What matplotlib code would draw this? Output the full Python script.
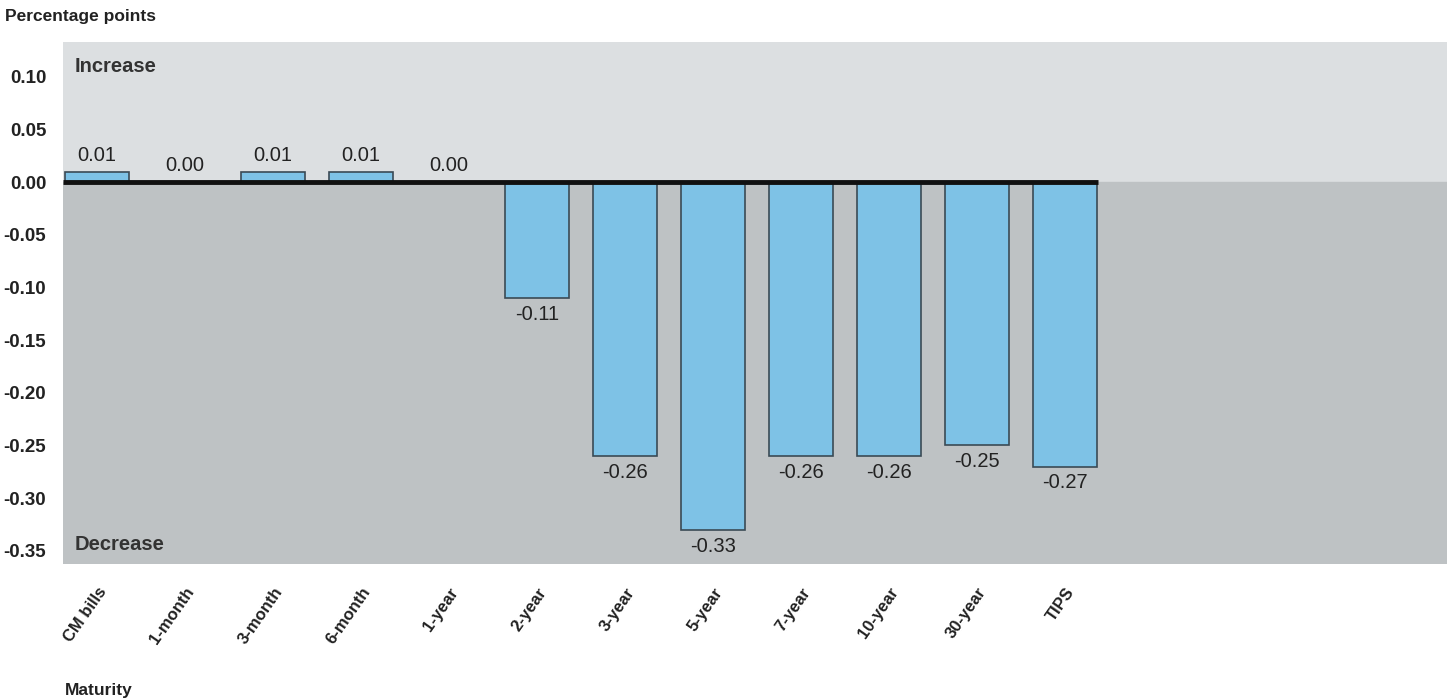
import matplotlib
matplotlib.use("Agg")
import matplotlib.pyplot as plt

maturities = ["CM bills", "1-month", "3-month", "6-month", "1-year", "2-year",
              "3-year", "5-year", "7-year", "10-year", "30-year", "TIPS"]
changes = [0.01, 0.00, 0.01, 0.01, 0.00, -0.11, -0.26, -0.33, -0.26, -0.26, -0.25, -0.27]
yticks = [0.10, 0.05, 0.00, -0.05, -0.10, -0.15, -0.20, -0.25, -0.30, -0.35]

plt.rcParams['font.family'] = ['Liberation Sans', 'DejaVu Sans']

fig = plt.figure(figsize=(14.47, 7.0), dpi=100)
ax = fig.add_axes([63/1447, 1 - 564/700, 1 - 63/1447, (564-42)/700])

ymin, ymax = -0.3625, 0.133
xmin, xmax = -0.386, 15.34
ax.axhspan(0, ymax, color="#dcdfe1", zorder=0)
ax.axhspan(ymin, 0, color="#bec2c4", zorder=0)

x = list(range(len(maturities)))
ax.bar(x, changes, width=0.72, color="#7ec2e6", edgecolor="#3a4a55", linewidth=1.2, zorder=2)
ax.plot([xmin, len(x) - 1 + 0.37], [0, 0], color="#111111", linewidth=3.5, zorder=3,
        solid_capstyle="butt")

for xi, v in zip(x, changes):
    if v >= 0:
        ax.annotate(f"{v:.2f}", (xi, v), xytext=(0, 5), textcoords="offset points",
                    ha="center", va="bottom", fontsize=14.5, color="#222222")
    else:
        ax.annotate(f"{v:.2f}", (xi, v), xytext=(0, -5), textcoords="offset points",
                    ha="center", va="top", fontsize=14.5, color="#222222")

ax.text(12/1384, 1 - 25/522, "Increase", fontsize=14.5, fontweight="bold", color="#333333",
        va="center", ha="left", transform=ax.transAxes)
ax.text(12/1384, 20/522, "Decrease", fontsize=14.5, fontweight="bold", color="#333333",
        va="center", ha="left", transform=ax.transAxes)

ax.set_xlim(xmin, xmax)
ax.set_ylim(ymin, ymax)
ax.set_yticks(yticks)
ax.set_yticklabels([f"{t:.2f}" for t in yticks], fontsize=13.5, fontweight="bold")
ax.set_xticks(x)
ax.set_xticklabels(maturities, rotation=55, ha="right", rotation_mode="anchor",
                   fontsize=12, fontweight="bold")
ax.tick_params(axis="y", length=0, pad=12, colors="#222222")
ax.tick_params(axis="x", length=0, pad=15, colors="#222222")
for s in ax.spines.values():
    s.set_visible(False)

fig.text(5/1447, 1 - 17/700, "Percentage points", fontsize=12.5, fontweight="bold",
         va="center", ha="left", color="#222222")
fig.text(65/1447, 1 - 690/700, "Maturity", fontsize=12.5, fontweight="bold",
         va="center", ha="left", color="#222222")

fig.savefig("out.png", dpi=100)
